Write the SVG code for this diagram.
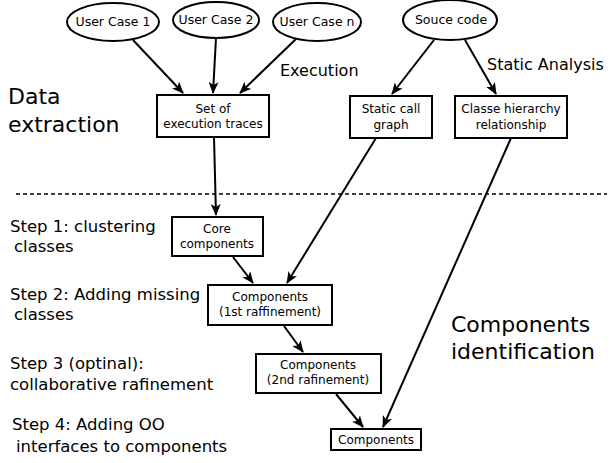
<svg xmlns="http://www.w3.org/2000/svg" width="610" height="463" viewBox="0 0 610 463">
<style>
text{font-family:"DejaVu Sans","Liberation Sans",sans-serif;fill:#000}
.n{fill:#fff;stroke:#000;stroke-width:2}
.t{font-size:12px;text-anchor:middle}
.e{font-size:12.5px;text-anchor:middle}
.s{font-size:16.5px}
.a{font-size:16px}
.b{font-size:22px}
.c line{stroke:#000;stroke-width:2;marker-end:url(#ah)}
</style>
<defs>
<marker id="ah" viewBox="0 0 12 10" refX="11" refY="5" markerWidth="12" markerHeight="10" markerUnits="userSpaceOnUse" orient="auto">
<path d="M0,0 L12,5 L0,10 L3,5 z" fill="#000"/>
</marker>
</defs>
<rect width="610" height="463" fill="#fff"/>
<line x1="16" y1="194" x2="607" y2="194" stroke="#000" stroke-width="1.5" stroke-dasharray="4,3"/>
<g id="uc1"><ellipse class="n" cx="113" cy="22" rx="46" ry="19"/><text class="e" x="113" y="26">User Case 1</text></g>
<g id="uc2"><ellipse class="n" cx="216" cy="20" rx="43" ry="18"/><text class="e" x="216" y="24">User Case 2</text></g>
<g id="ucn"><ellipse class="n" cx="317" cy="22" rx="44" ry="19"/><text class="e" x="317" y="26">User Case n</text></g>
<g id="src"><ellipse class="n" cx="450" cy="20" rx="47" ry="20"/><text class="e" x="451" y="24">Souce code</text></g>
<g id="traces"><rect class="n" x="157" y="95" width="112" height="42"/><text class="t" x="213" y="113">Set of</text><text class="t" x="213" y="128">execution traces</text></g>
<g id="callgraph"><rect class="n" x="350" y="96" width="82" height="42"/><text class="t" x="391" y="113">Static call</text><text class="t" x="391" y="129">graph</text></g>
<g id="hierarchy"><rect class="n" x="455" y="96" width="112" height="42"/><text class="t" x="511" y="113">Classe hierarchy</text><text class="t" x="511" y="129">relationship</text></g>
<g id="core"><rect class="n" x="172" y="217" width="91" height="39"/><text class="t" x="217" y="233">Core</text><text class="t" x="217" y="248">components</text></g>
<g id="comp1"><rect class="n" x="208" y="285" width="124" height="40"/><text class="t" x="270" y="301">Components</text><text class="t" x="270" y="316">(1st raffinement)</text></g>
<g id="comp2"><rect class="n" x="256" y="354" width="125" height="39"/><text class="t" x="318" y="369">Components</text><text class="t" x="318" y="384">(2nd rafinement)</text></g>
<g id="comp"><rect class="n" x="331" y="429" width="90" height="21"/><text class="t" x="376" y="444">Components</text></g>
<g class="c">
<line x1="133" y1="40" x2="183" y2="93"/>
<line x1="216" y1="38" x2="213" y2="93"/>
<line x1="296" y1="39" x2="240" y2="93"/>
<line x1="434" y1="40" x2="392" y2="94"/>
<line x1="465" y1="40" x2="496" y2="94"/>
<line x1="214" y1="137" x2="216" y2="215"/>
<line x1="376" y1="138" x2="287" y2="283"/>
<line x1="511" y1="138" x2="383" y2="427"/>
<line x1="233" y1="257" x2="253" y2="283"/>
<line x1="284" y1="326" x2="303" y2="352"/>
<line x1="336" y1="394" x2="363" y2="427"/>
</g>
<text class="a" x="280" y="76">Execution</text>
<text class="a" x="487" y="70">Static Analysis</text>
<text class="b" x="8" y="104">Data</text>
<text class="b" x="8" y="132">extraction</text>
<text class="b" x="451" y="332">Components</text>
<text class="b" x="451" y="359">identification</text>
<text class="s" x="10" y="232">Step 1: clustering</text>
<text class="s" x="14" y="252">classes</text>
<text class="s" x="10" y="300">Step 2: Adding missing</text>
<text class="s" x="14" y="320">classes</text>
<text class="s" x="10" y="369">Step 3 (optinal):</text>
<text class="s" x="10" y="390">collaborative rafinement</text>
<text class="s" x="12" y="430">Step 4: Adding OO</text>
<text class="s" x="16" y="452">interfaces to components</text>
</svg>
